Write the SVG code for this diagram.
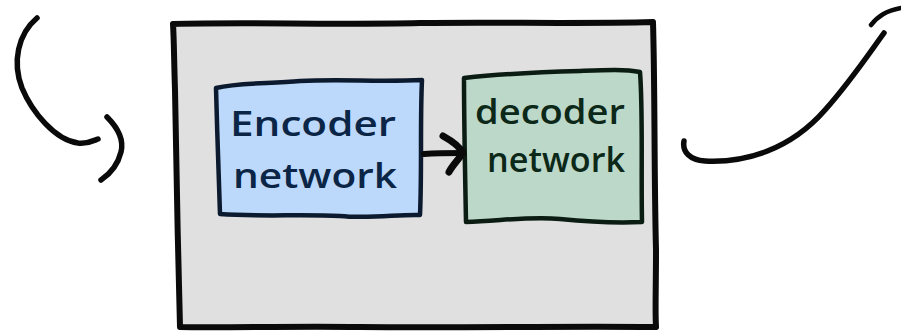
<svg xmlns="http://www.w3.org/2000/svg" width="901" height="331" viewBox="0 0 901 331">
  <style>
    .ink { fill: none; stroke: #0a0a0a; stroke-linecap: round; stroke-linejoin: round; }
    .frame { fill: #e0e0e0; stroke: #0a0a0a; stroke-width: 6; stroke-linejoin: round; }
    .box { stroke-width: 4.5; stroke-linejoin: round; }
    .enc { fill: #bcd9fb; stroke: #0b1a2e; }
    .dec { fill: #bcd8c9; stroke: #0b1c12; }
    .label { font-family: "Open Sans", "Liberation Sans", sans-serif; font-size: 34px; font-weight: 600; }
    .encText { fill: #0b2546; }
    .decText { fill: #0c2818; }
  </style>

  <!-- incoming curved stroke on the left -->
  <g id="input-curve">
    <path class="ink" stroke-width="5.5" d="M37,18 C18,34 12,62 22,88 C32,112 55,140 78,143 C88,144 93,141 98,139"/>
    <path class="ink" stroke-width="5.5" d="M107,117 C118,128 124,140 121,152 C118,164 110,174 101,180"/>
  </g>

  <!-- outgoing curved arrow on the right -->
  <g id="output-curve">
    <path class="ink" stroke-width="5.5" d="M684,141 C682,152 690,160 705,161 C745,163 790,150 825,110 C850,82 868,55 884,33"/>
    <path class="ink" stroke-width="4.5" d="M871,25 C878,16 886,11 901,8"/>
  </g>

  <!-- outer system frame -->
  <g id="system">
    <path class="frame" d="M173,24 C250,22 330,25 420,23 C500,22 580,24 653,22 C655,90 654,170 656,250 C656,290 655,310 656,327 C560,326 460,328 360,327 C290,326 220,328 180,327 C178,250 176,160 175,90 C174,60 174,40 173,24 Z"/>
  </g>

  <!-- encoder node -->
  <g id="encoder">
    <path class="box enc" d="M216,88 C240,82 270,84 300,81 C340,79 380,82 422,80 C420,120 422,170 420,215 C400,214 370,219 340,216 C300,214 260,217 220,214 C219,180 217,130 216,88 Z"/>
    <text class="label encText" x="230" y="136" textLength="166" lengthAdjust="spacingAndGlyphs">Encoder</text>
    <text class="label encText" x="233" y="188" textLength="164" lengthAdjust="spacingAndGlyphs">network</text>
  </g>

  <!-- decoder node -->
  <g id="decoder">
    <path class="box dec" d="M464,78 C500,74 540,72 580,71 C605,70 625,69 640,72 C643,110 641,170 642,222 C620,223 590,222 560,219 C530,216 500,221 466,222 C465,170 464,120 464,78 Z"/>
    <text class="label decText" x="475" y="124" textLength="150" lengthAdjust="spacingAndGlyphs">decoder</text>
    <text class="label decText" x="487" y="172" textLength="138" lengthAdjust="spacingAndGlyphs">network</text>
  </g>

  <!-- connector from encoder to decoder -->
  <g id="connectors">
    <path class="ink" stroke="#222" stroke-width="6" d="M424,154 C438,153 450,153 462,153"/>
    <path class="ink" stroke="#222" stroke-width="7" d="M443,136 C452,141 460,147 463,153 C458,160 452,166 449,172"/>
  </g>
</svg>
